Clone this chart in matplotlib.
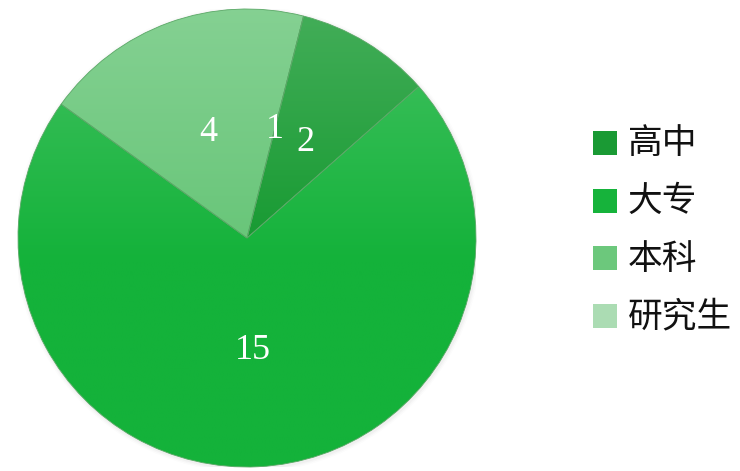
import numpy as np
import matplotlib
matplotlib.use("Agg")
import matplotlib.pyplot as plt
from matplotlib.colors import to_rgb
from matplotlib.patches import Rectangle

plt.rcParams['font.family'] = ['Noto Sans CJK SC', 'DejaVu Sans']

# data
categories = ["高中", "大专", "本科", "研究生"]
label_values = [2, 15, 4, 1]          # numbers printed on the pie
wedge_sizes = [2, 15, 4, 0]           # the 研究生 slice has no visible width
colors = ["#14992f", "#14b23a", "#66c577", "#a8dbb1"]
legend_colors = ["#1a9a34", "#16b33b", "#6cc87c", "#abdcb3"]

INK = "#111111"


def lighten(c, f):
    r, g, b = to_rgb(c)
    return (r + (1 - r) * f, g + (1 - g) * f, b + (1 - b) * f)


fig = plt.figure(figsize=(7.4, 4.71), dpi=100)
ax = fig.add_axes([18 / 740, 4 / 471, 458 / 740, 458 / 471])
ax.axis("off")

# soft shadow ring
for i, a in enumerate([0.05, 0.035, 0.02]):
    sh = plt.Circle((0.004, -0.006), 1.0 + 0.006 * (i + 1), fc="#777777", ec="none",
                    alpha=a, zorder=0)
    ax.add_patch(sh)

wedges, _ = ax.pie(wedge_sizes, colors=colors, startangle=75.7, counterclock=False,
                   radius=1.0, wedgeprops=dict(ec="#5aa866", lw=0.6))

# vertical shading: lighter at the top of the pie
ys = np.linspace(1, -1, 300)
for w, c in zip(wedges, colors):
    grad = np.zeros((300, 2, 3))
    for k, y in enumerate(ys):
        f = max(0.0, (y + 0.1) / 1.1) * 0.2
        grad[k, :, :] = lighten(c, f)
    im = ax.imshow(grad, extent=(-1, 1, -1, 1), origin="upper", zorder=1,
                   interpolation="bilinear")
    im.set_clip_path(w)
    w.set_zorder(2)
    w.set_facecolor("none")

ax.set_xlim(-1, 1)
ax.set_ylim(-1, 1)
ax.set_aspect("equal")

# value labels at mid angle of each wedge
theta = 75.7
for size, val in zip(wedge_sizes, label_values):
    span = size / sum(wedge_sizes) * 360
    mid = np.deg2rad(theta - span / 2)
    r = 0.49
    ax.text(r * np.cos(mid), r * np.sin(mid), str(val), ha="center", va="center",
            color="white", fontsize=26, family="Liberation Serif", zorder=3)
    theta -= span

# legend
for i, (name, lc) in enumerate(zip(categories, legend_colors)):
    y = 143 + i * 57.5
    fig.patches.append(Rectangle((593 / 740, 1 - (y + 12) / 471), 24 / 740, 24 / 471,
                                 transform=fig.transFigure, fc=lc, ec="none"))
    fig.text(628 / 740, 1 - (y + 1) / 471, name, ha="left", va="center", fontsize=25,
             color=INK)

fig.savefig("out.png", dpi=100)
